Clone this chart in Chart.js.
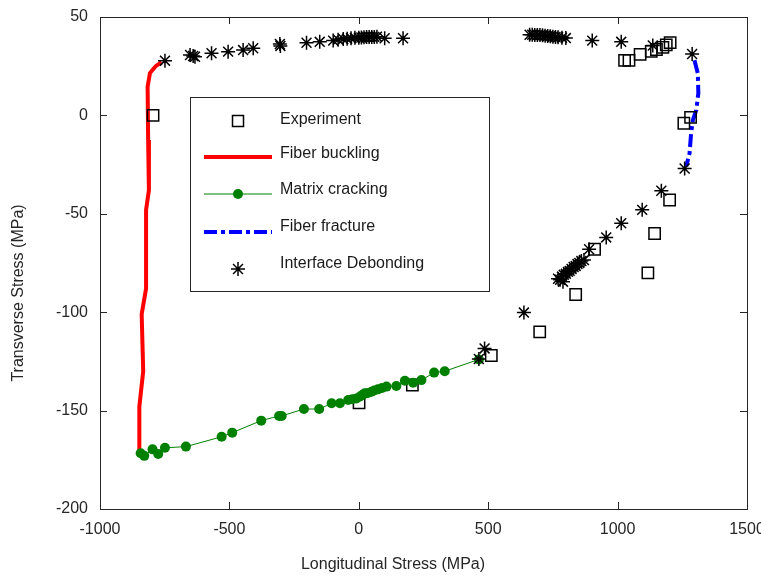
<!DOCTYPE html>
<html>
<head>
<meta charset="utf-8">
<script src="https://cdn.jsdelivr.net/npm/chart.js@4.4.1/dist/chart.umd.min.js"></script>
<style>
  html, body { margin: 0; padding: 0; background: #ffffff; }
  #wrap { position: relative; width: 761px; height: 578px; }
</style>
</head>
<body>
<div id="wrap"><canvas id="c" width="761" height="578"></canvas></div>
<script>
// ---- Axis ticks ----
const xTicks = [-1000, -500, 0, 500, 1000, 1500];
const yTicks = [-200, -150, -100, -50, 0, 50];
const xTitle = 'Longitudinal Stress (MPa)';
const yTitle = 'Transverse Stress (MPa)';

// ---- Series names ----
const seriesNames = ['Experiment', 'Fiber buckling', 'Matrix cracking', 'Fiber fracture', 'Interface Debonding'];

// ---- Experiment (open squares) ----
const expX = [-795, 1, 207, 512, 699, 838, 911, 1117, 1143, 1201, 1256, 1282, 1027, 1044, 1087, 1130, 1150, 1175, 1188, 1203];
const expY = [0, -146, -137, -122, -110, -91, -68, -80, -60, -43, -4, -1, 28, 28, 31, 32.5, 33.5, 34.6, 35.8, 37];

// ---- Fiber buckling (red line) ----
const buckX = [-762, -785, -807, -816, -814, -811, -822, -822, -839, -833, -848, -848];
const buckY = [27, 25, 21.5, 14.6, -12.5, -38, -48, -88, -101, -130, -148, -171];

// ---- Matrix cracking (green line with dots) ----
const crackX = [-843, -829, -797, -775, -749, -668, -530, -489, -377, -308, -298, -212, -153, -105, -73, -41, -25, -9, 5, 15, 23, 35, 49, 60, 74, 90, 107, 145, 178, 210, 242, 291, 332, 464];
const crackY = [-171.7, -173, -169.7, -172, -168.9, -168.3, -163.3, -161.2, -155.1, -152.7, -152.7, -149.2, -149.2, -146.3, -146.3, -144.6, -144.2, -143.8, -142.8, -142, -141.2, -141, -140.4, -139.8, -139.2, -138.5, -137.8, -137.5, -134.8, -135.8, -134.5, -130.7, -130, -124];

// ---- Fiber fracture (blue dash-dot) ----
const fracX = [1297, 1310, 1312, 1304, 1291, 1284, 1278, 1265];
const fracY = [28, 21.4, 11.2, 2.7, -2.3, -9.1, -19.3, -26];

// ---- Interface debonding (asterisks) ----
const debX = [-749, -652, -640, -633, -569, -505, -447, -408, -305, -303, -202, -151, -99, -80, -60, -45, -30, -15, 0, 10, 20, 30, 40, 50, 60, 70, 100, 171,
  660, 670, 680, 690, 700, 710, 720, 730, 740, 750, 760, 770, 785, 800, 902, 1014, 1136, 1288,
  1259, 1169, 1095, 1014, 956, 890,
  770, 778, 785, 789, 792, 800, 808, 815, 822, 830, 838, 845, 852, 860, 870,
  638, 486, 464];
const debY = [27.8, 30.7, 30.2, 29.8, 31.6, 32.4, 33.2, 34.1, 36.3, 35.3, 36.9, 37.4, 38, 38.5, 38.8, 39, 39.2, 39.4, 39.5, 39.6, 39.7, 39.8, 39.8, 39.9, 39.9, 40, 39.2, 39.2,
  41, 41, 40.9, 40.8, 40.8, 40.7, 40.5, 40.3, 40.2, 40, 39.8, 39.7, 39.5, 39.3, 38, 37.4, 35.5, 31.2,
  -27, -38.3, -48, -54.8, -62, -68,
  -83, -83.5, -82, -84.5, -81, -80.5, -79.5, -79, -78, -77, -76.5, -75.5, -75, -74, -73.5,
  -100.2, -118.4, -123.8];

const pts = (xs, ys) => xs.map((x, i) => ({ x: x, y: ys[i] }));

const FONT = '"Liberation Sans", Arial, Helvetica, sans-serif';
const INK = '#262626';
Chart.defaults.font.family = FONT;
Chart.defaults.font.size = 16;
Chart.defaults.color = INK;

const blueDash = [13, 4, 4, 4];

const boxPlugin = {
  id: 'boxPlugin',
  afterDraw(chart) {
    const ctx = chart.ctx;
    const a = chart.chartArea;
    const xs = chart.scales.x, ys = chart.scales.y;
    ctx.save();
    ctx.strokeStyle = INK;
    ctx.lineWidth = 1;
    // frame
    ctx.strokeRect(Math.round(a.left) + 0.5, Math.round(a.top) + 0.5, Math.round(a.right - a.left), Math.round(a.bottom - a.top));
    // inward tick marks
    const tl = 7;
    ctx.beginPath();
    xTicks.forEach(v => {
      const px = Math.round(xs.getPixelForValue(v)) + 0.5;
      ctx.moveTo(px, a.bottom); ctx.lineTo(px, a.bottom - tl);
      ctx.moveTo(px, a.top); ctx.lineTo(px, a.top + tl);
    });
    yTicks.forEach(v => {
      const py = Math.round(ys.getPixelForValue(v)) + 0.5;
      ctx.moveTo(a.left, py); ctx.lineTo(a.left + tl, py);
      ctx.moveTo(a.right, py); ctx.lineTo(a.right - tl, py);
    });
    ctx.stroke();

    // axis titles
    ctx.fillStyle = INK;
    ctx.font = '16px ' + FONT;
    ctx.textAlign = 'center';
    ctx.textBaseline = 'middle';
    ctx.fillText(xTitle, 393, 565);
    ctx.save();
    ctx.translate(19, 293);
    ctx.rotate(-Math.PI / 2);
    ctx.fillText(yTitle, 0, 0);
    ctx.restore();

    // legend
    const L = 190, T = 97, R = 489, B = 291;
    ctx.fillStyle = '#ffffff';
    ctx.fillRect(L, T, R - L, B - T);
    ctx.strokeStyle = INK;
    ctx.lineWidth = 1;
    ctx.strokeRect(L + 0.5, T + 0.5, R - L, B - T);

    const sx0 = 204, sx1 = 272, sc = 238, tx = 280;
    const textY = [120, 154, 190, 227, 264];
    const symY = [121, 157, 194, 232, 269];
    // Experiment square
    ctx.strokeStyle = '#000';
    ctx.lineWidth = 1.5;
    ctx.strokeRect(sc - 5.5, symY[0] - 5.5, 11, 11);
    // Fiber buckling
    ctx.strokeStyle = '#ff0000';
    ctx.lineWidth = 4;
    ctx.beginPath(); ctx.moveTo(sx0, symY[1]); ctx.lineTo(sx1, symY[1]); ctx.stroke();
    // Matrix cracking
    ctx.strokeStyle = '#008000';
    ctx.lineWidth = 1;
    ctx.beginPath(); ctx.moveTo(sx0, symY[2]); ctx.lineTo(sx1, symY[2]); ctx.stroke();
    ctx.fillStyle = '#008000';
    ctx.beginPath(); ctx.arc(sc, symY[2], 5, 0, Math.PI * 2); ctx.fill();
    // Fiber fracture
    ctx.strokeStyle = '#0000ff';
    ctx.lineWidth = 4;
    ctx.setLineDash(blueDash);
    ctx.beginPath(); ctx.moveTo(sx0, symY[3]); ctx.lineTo(sx1, symY[3]); ctx.stroke();
    ctx.setLineDash([]);
    // Interface debonding star
    ctx.strokeStyle = '#000';
    ctx.lineWidth = 1.5;
    const r = 7, d = r * Math.SQRT1_2;
    ctx.beginPath();
    ctx.moveTo(sc - r, symY[4]); ctx.lineTo(sc + r, symY[4]);
    ctx.moveTo(sc, symY[4] - r); ctx.lineTo(sc, symY[4] + r);
    ctx.moveTo(sc - d, symY[4] - d); ctx.lineTo(sc + d, symY[4] + d);
    ctx.moveTo(sc - d, symY[4] + d); ctx.lineTo(sc + d, symY[4] - d);
    ctx.stroke();
    // texts
    ctx.fillStyle = '#1a1a1a';
    ctx.textAlign = 'left';
    ctx.textBaseline = 'middle';
    seriesNames.forEach((n, i) => ctx.fillText(n, tx, textY[i]));
    ctx.restore();
  }
};

new Chart(document.getElementById('c'), {
  type: 'scatter',
  data: {
    datasets: [
      {
        label: seriesNames[4], data: pts(debX, debY), order: 0,
        showLine: false, pointStyle: 'star', pointRadius: 7, pointHoverRadius: 7,
        borderColor: '#000000', backgroundColor: '#000000', pointBorderWidth: 1.5
      },
      {
        label: seriesNames[2], data: pts(crackX, crackY), order: 1,
        showLine: true, tension: 0, borderColor: '#008000', borderWidth: 1,
        pointStyle: 'circle', pointRadius: 5, pointHoverRadius: 5,
        pointBackgroundColor: '#008000', pointBorderColor: '#008000', pointBorderWidth: 0
      },
      {
        label: seriesNames[0], data: pts(expX, expY), order: 2,
        showLine: false, pointStyle: 'rect', pointRadius: 8, pointHoverRadius: 8,
        borderColor: '#000000', backgroundColor: 'rgba(0,0,0,0)', pointBorderWidth: 1.5
      },
      {
        label: seriesNames[3], data: pts(fracX, fracY), order: 3,
        showLine: true, tension: 0, borderColor: '#0000ff', borderWidth: 4,
        borderDash: blueDash, pointRadius: 0, pointHoverRadius: 0
      },
      {
        label: seriesNames[1], data: pts(buckX, buckY), order: 4,
        showLine: true, tension: 0, borderColor: '#ff0000', borderWidth: 4,
        pointRadius: 0, pointHoverRadius: 0
      }
    ]
  },
  options: {
    responsive: false,
    animation: false,
    events: [],
    layout: { padding: { left: 0, top: 17, right: 14, bottom: 0 } },
    plugins: { legend: { display: false }, tooltip: { enabled: false }, title: { display: false } },
    scales: {
      x: {
        type: 'linear', min: -1000, max: 1500,
        afterBuildTicks: s => { s.ticks = xTicks.map(v => ({ value: v })); },
        afterFit: s => { s.height = 69; s.paddingLeft = 0; s.paddingRight = 0; },
        grid: { display: false, drawTicks: false },
        border: { display: false },
        ticks: { padding: 11, color: INK, font: { size: 16 }, maxRotation: 0, callback: v => String(v) }
      },
      y: {
        type: 'linear', min: -200, max: 50,
        afterBuildTicks: s => { s.ticks = yTicks.map(v => ({ value: v })); },
        afterFit: s => { s.width = 100; s.paddingTop = 0; s.paddingBottom = 0; },
        grid: { display: false, drawTicks: false },
        border: { display: false },
        ticks: { padding: 12, color: INK, font: { size: 16 }, callback: v => String(v) }
      }
    }
  },
  plugins: [boxPlugin]
});
</script>
</body>
</html>
